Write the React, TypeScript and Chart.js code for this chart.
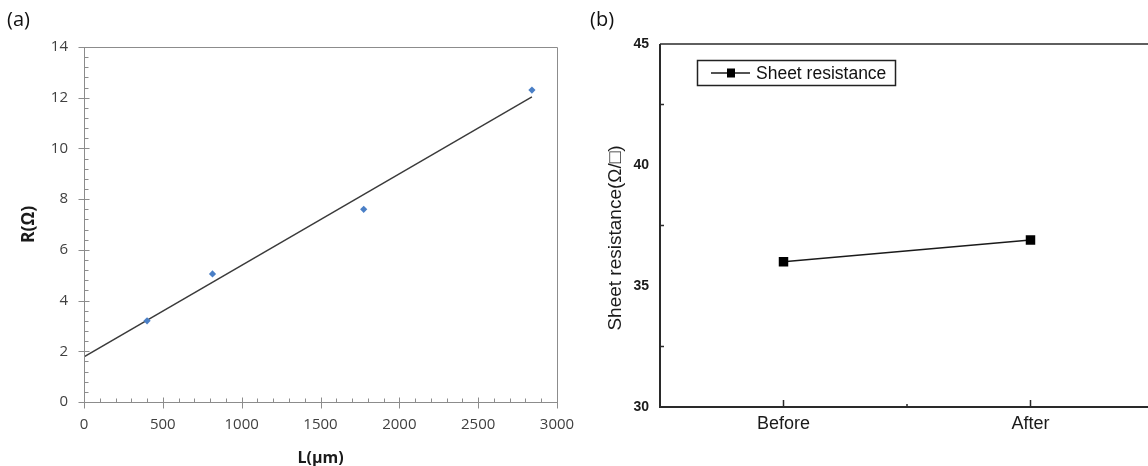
import React, { useEffect, useRef } from "react";
import { Chart, registerables } from "chart.js";

Chart.register(...registerables);

// ---- Panel (a): R vs L ----
const lengthsUm = [400, 815, 1774, 2841];
const resistanceOhm = [3.2, 5.05, 7.6, 12.3];
const fitLineX = [0, 2841];
const fitLineY = [1.78, 12.03];

// ---- Panel (b): sheet resistance ----
const phases = ["Before", "After"];
const sheetResistance = [36.0, 36.9];
const seriesLabelB = "Sheet resistance";
const yTitleB = "Sheet resistance(Ω/□)";

const FONT_A = "'Open Sans', 'Noto Sans', sans-serif";
const FONT_B = "'Liberation Sans', Arial, sans-serif";

const plotDecorA = {
  id: "plotDecorA",
  afterDraw(chart: any) {
    const { ctx, chartArea, scales } = chart;
    const { left, right, top, bottom } = chartArea;
    const x = scales.x;
    const y = scales.y;
    ctx.save();
    ctx.strokeStyle = "#8c8c8c";
    ctx.lineWidth = 1;
    ctx.beginPath();
    ctx.rect(left + 0.5, top + 0.5, right - left, bottom - top);
    for (let k = 0; k <= 35; k++) {
      const v = k * 0.4;
      const py = Math.round(y.getPixelForValue(v)) + 0.5;
      const major = k % 5 === 0;
      ctx.moveTo(left + 0.5 - (major ? 6 : 0), py);
      ctx.lineTo(left + 0.5 + (major ? 5 : 4), py);
    }
    for (let k = 0; k <= 30; k++) {
      const v = k * 100;
      const px = Math.round(x.getPixelForValue(v)) + 0.5;
      const major = k % 5 === 0;
      ctx.moveTo(px, bottom + 0.5 + (major ? 6 : 0));
      ctx.lineTo(px, bottom + 0.5 - (major ? 5 : 4));
    }
    ctx.stroke();
    ctx.fillStyle = "#111";
    ctx.font = `20px ${FONT_A}`;
    ctx.textAlign = "left";
    ctx.textBaseline = "middle";
    ctx.fillText("(a)", 7, 20);
    ctx.restore();
  },
};

const plotDecorB = {
  id: "plotDecorB",
  afterDraw(chart: any) {
    const { ctx, chartArea, scales } = chart;
    const { left, right, top, bottom } = chartArea;
    const x = scales.x;
    const y = scales.y;
    ctx.save();
    ctx.strokeStyle = "#2a2a2a";
    ctx.lineWidth = 1.5;
    ctx.beginPath();
    ctx.moveTo(left, top);
    ctx.lineTo(right, top);
    ctx.stroke();
    ctx.lineWidth = 2;
    ctx.beginPath();
    ctx.moveTo(left, top);
    ctx.lineTo(left, bottom);
    ctx.lineTo(right, bottom);
    ctx.stroke();
    ctx.lineWidth = 1.5;
    ctx.beginPath();
    [32.5, 37.5, 42.5].forEach((v) => {
      const py = y.getPixelForValue(v);
      ctx.moveTo(left, py);
      ctx.lineTo(left + 4, py);
    });
    phases.forEach((_, i) => {
      const px = x.getPixelForValue(i);
      ctx.moveTo(px, bottom);
      ctx.lineTo(px, bottom - 7);
    });
    const mid = (x.getPixelForValue(0) + x.getPixelForValue(1)) / 2;
    ctx.moveTo(mid, bottom);
    ctx.lineTo(mid, bottom - 3);
    ctx.stroke();

    // legend
    const ds = chart.data.datasets[0];
    ctx.lineWidth = 1.5;
    ctx.strokeStyle = "#222";
    ctx.strokeRect(117.5, 60.5, 198, 25);
    ctx.strokeStyle = ds.borderColor;
    ctx.beginPath();
    ctx.moveTo(131, 73);
    ctx.lineTo(170, 73);
    ctx.stroke();
    ctx.fillStyle = ds.pointBackgroundColor;
    ctx.fillRect(147, 68.5, 8, 9);
    ctx.fillStyle = "#111";
    ctx.font = `17.5px ${FONT_B}`;
    ctx.textAlign = "left";
    ctx.textBaseline = "middle";
    ctx.fillText(ds.label, 176, 74);

    // y-axis title
    ctx.save();
    ctx.translate(36, 238);
    ctx.rotate(-Math.PI / 2);
    ctx.textAlign = "center";
    ctx.textBaseline = "middle";
    ctx.font = `19px ${FONT_B}`;
    ctx.fillStyle = "#1a1a1a";
    ctx.fillText(yTitleB, 0, 0);
    ctx.restore();

    // panel label
    ctx.fillStyle = "#111";
    ctx.textAlign = "left";
    ctx.textBaseline = "middle";
    ctx.font = `20px ${FONT_A}`;
    ctx.fillText("(b)", 10, 20);
    ctx.restore();
  },
};

export default function App() {
  const refA = useRef<HTMLCanvasElement>(null);
  const refB = useRef<HTMLCanvasElement>(null);

  useEffect(() => {
    const chartA = new Chart(refA.current as HTMLCanvasElement, {
      type: "scatter",
      data: {
        datasets: [
          {
            type: "scatter",
            label: "R",
            data: lengthsUm.map((v, i) => ({ x: v, y: resistanceOhm[i] })),
            pointStyle: "rectRot",
            pointRadius: 3.6,
            pointBackgroundColor: "#4a7fc6",
            pointBorderColor: "#4a7fc6",
            pointBorderWidth: 0,
            order: 1,
          },
          {
            type: "line",
            label: "Fit",
            data: fitLineX.map((v, i) => ({ x: v, y: fitLineY[i] })),
            borderColor: "#3a3a3a",
            borderWidth: 1.4,
            pointRadius: 0,
            showLine: true,
            fill: false,
            order: 2,
          } as any,
        ],
      },
      options: {
        animation: false,
        responsive: false,
        layout: { padding: { left: 0, top: 47, right: 23, bottom: 0 } },
        plugins: { legend: { display: false }, tooltip: { enabled: false } },
        scales: {
          x: {
            type: "linear",
            min: 0,
            max: 3000,
            ticks: {
              stepSize: 500,
              padding: 14,
              color: "#404040",
              font: { family: FONT_A, size: 15 },
              callback: (v: any) => String(v),
            },
            grid: { display: false, drawTicks: false },
            border: { display: false },
            title: {
              display: true,
              text: "L(μm)",
              color: "#1a1a1a",
              font: { family: FONT_A, size: 16, weight: "bold", lineHeight: 1 },
              padding: { top: 0, bottom: 0 },
            },
            afterFit(scale: any) {
              scale.height = 64;
              scale.paddingLeft = 0;
              scale.paddingRight = 0;
            },
          },
          y: {
            type: "linear",
            min: 0,
            max: 14,
            ticks: { stepSize: 2, padding: 16, color: "#404040", font: { family: FONT_A, size: 15 } },
            grid: { display: false, drawTicks: false },
            border: { display: false },
            title: {
              display: true,
              text: "R(Ω)",
              color: "#1a1a1a",
              font: { family: FONT_A, size: 17.5, weight: "bold", lineHeight: 1.2 },
              padding: { top: 19, bottom: 0 },
            },
            afterFit(scale: any) {
              scale.width = 84;
              scale.paddingTop = 0;
              scale.paddingBottom = 0;
            },
          },
        },
      } as any,
      plugins: [plotDecorA],
    });

    const chartB = new Chart(refB.current as HTMLCanvasElement, {
      type: "line",
      data: {
        labels: phases,
        datasets: [
          {
            label: seriesLabelB,
            data: sheetResistance,
            borderColor: "#1a1a1a",
            borderWidth: 1.5,
            pointStyle: "rect",
            pointRadius: 6.7,
            pointBackgroundColor: "#000",
            pointBorderColor: "#000",
            pointBorderWidth: 0,
          },
        ],
      },
      options: {
        animation: false,
        responsive: false,
        layout: { padding: { left: 0, top: 44, right: 26, bottom: 0 } },
        plugins: { legend: { display: false }, tooltip: { enabled: false } },
        scales: {
          x: {
            type: "category",
            offset: true,
            ticks: { padding: 6, color: "#1a1a1a", font: { family: FONT_B, size: 18 } },
            grid: { display: false, drawTicks: false },
            border: { display: false },
            afterFit(scale: any) {
              scale.height = 59;
              scale.paddingLeft = 0;
              scale.paddingRight = 0;
            },
          },
          y: {
            type: "linear",
            min: 30,
            max: 45,
            ticks: { stepSize: 5, padding: 11, color: "#1a1a1a", font: { family: FONT_B, size: 14, weight: "bold" } },
            grid: { display: false, drawTicks: false },
            border: { display: false },
            afterFit(scale: any) {
              scale.width = 80;
              scale.paddingTop = 0;
              scale.paddingBottom = 0;
            },
          },
        },
      } as any,
      plugins: [plotDecorB],
    });

    return () => {
      chartA.destroy();
      chartB.destroy();
    };
  }, []);

  return (
    <div
      style={{
        position: "fixed",
        left: 0,
        top: 0,
        width: 1148,
        height: 466,
        overflow: "hidden",
        background: "#fff",
      }}
    >
      <canvas
        ref={refA}
        width={580}
        height={466}
        style={{ position: "absolute", left: 0, top: 0, width: 580, height: 466 }}
      />
      <canvas
        ref={refB}
        width={600}
        height={466}
        style={{ position: "absolute", left: 580, top: 0, width: 600, height: 466 }}
      />
    </div>
  );
}
